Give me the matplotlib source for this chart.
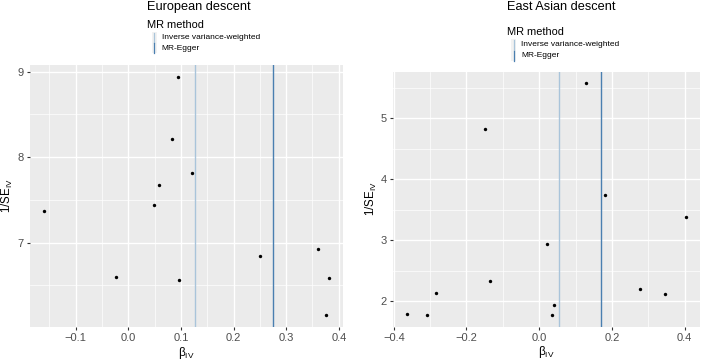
import matplotlib
matplotlib.use('Agg')
from matplotlib import pyplot as plt
from matplotlib.patches import Rectangle
from matplotlib.lines import Line2D

plt.rcParams['font.family'] = ['Liberation Sans', 'DejaVu Sans']
plt.rcParams['mathtext.default'] = 'regular'

# European descent
eur_beta = [-0.160, -0.023, 0.049, 0.059, 0.083, 0.095, 0.097, 0.121, 0.251, 0.360, 0.381, 0.376]
eur_inv_se = [7.37, 6.60, 7.44, 7.67, 8.21, 8.94, 6.56, 7.81, 6.84, 6.93, 6.59, 6.15]
eur_ivw = 0.126
eur_egger = 0.2755

# East Asian descent
eas_beta = [-0.363, -0.308, -0.283, -0.149, -0.136, 0.022, 0.034, 0.042, 0.130, 0.180, 0.277, 0.345, 0.404]
eas_inv_se = [1.79, 1.77, 2.13, 4.82, 2.33, 2.93, 1.77, 1.93, 5.57, 3.74, 2.20, 2.12, 3.385]
eas_ivw = 0.055
eas_egger = 0.169

methods = ['Inverse variance-weighted', 'MR-Egger']
method_colors = ['#A9C4DA', '#4A7FB0']

W, H = 701, 364
fig = plt.figure(figsize=(W / 100, H / 100), dpi=100)


def px(x, y):
    return x / W, 1 - y / H


def panel(rect, beta, inv_se, ivw, egger, xticks, yticks, xminor, yminor):
    ax = fig.add_axes(rect)
    ax.set_facecolor('#EBEBEB')
    for s in ax.spines.values():
        s.set_visible(False)
    ax.set_xticks(xticks)
    ax.set_yticks(yticks)
    ax.set_xticks(xminor, minor=True)
    ax.set_yticks(yminor, minor=True)
    ax.grid(True, which='major', color='white', linewidth=1.0)
    ax.grid(True, which='minor', color='white', linewidth=0.5)
    ax.set_axisbelow(True)
    ax.tick_params(which='major', length=2.5, color='#333333', labelsize=8, labelcolor='#4D4D4D', pad=2)
    ax.tick_params(which='minor', length=0)
    ax.axvline(ivw, color=method_colors[0], linewidth=1.0)
    ax.axvline(egger, color=method_colors[1], linewidth=1.0)
    ax.scatter(beta, inv_se, s=6, color='black', zorder=3, linewidths=0)
    xr = max(beta) - min(beta)
    yr = max(inv_se) - min(inv_se)
    ax.set_xlim(min(beta) - 0.05 * xr, max(beta) + 0.05 * xr)
    ax.set_ylim(min(inv_se) - 0.05 * yr, max(inv_se) + 0.05 * yr)
    ax.set_xticklabels([f'{t:.1f}'.replace('-', '\u2212') for t in xticks])
    ax.set_yticklabels([str(t) for t in yticks])
    ax.set_xlabel(r'$\beta_{IV}$', fontsize=8.5, labelpad=1)
    ax.set_ylabel(r'1/SE$_{IV}$', fontsize=8.3, labelpad=1.5)
    return ax


panel([30 / W, 37 / H, 313 / W, 262 / H], eur_beta, eur_inv_se, eur_ivw, eur_egger,
      [-0.1, 0.0, 0.1, 0.2, 0.3, 0.4], [7, 8, 9],
      [-0.15, -0.05, 0.05, 0.15, 0.25, 0.35], [6.5, 7.5, 8.5])
panel([393.3 / W, 37.3 / H, 306.7 / W, 255 / H], eas_beta, eas_inv_se, eas_ivw, eas_egger,
      [-0.4, -0.2, 0.0, 0.2, 0.4], [2, 3, 4, 5],
      [-0.3, -0.1, 0.1, 0.3], [2.5, 3.5, 4.5, 5.5])


def header(x, title, ty, my, ry):
    fig.text(*px(x, ty), title, fontsize=9.2, va='center', ha='left', color='black')
    fig.text(*px(x, my), 'MR method', fontsize=7.9, va='center', ha='left', color='black')
    kx = x + 4.5
    for i, (m, c) in enumerate(zip(methods, method_colors)):
        yc = ry[i]
        x0, y0 = px(kx, yc + 5.3)
        fig.add_artist(Rectangle((x0, y0), 5 / W, 10.6 / H, transform=fig.transFigure,
                                 facecolor='#F2F2F2', edgecolor='none'))
        xa, ya = px(kx + 2.5, yc + 5)
        xb, yb = px(kx + 2.5, yc - 5)
        fig.add_artist(Line2D([xa, xb], [ya, yb], transform=fig.transFigure, color=c, linewidth=0.9))
        fig.text(*px(x + 14.5, yc), m, fontsize=6, va='center', ha='left', color='black')


header(147, 'European descent', 7, 25, [37.5, 48])
header(506.7, 'East Asian descent', 7.5, 32, [44.5, 55.5])

fig.savefig('out.png', dpi=100)
